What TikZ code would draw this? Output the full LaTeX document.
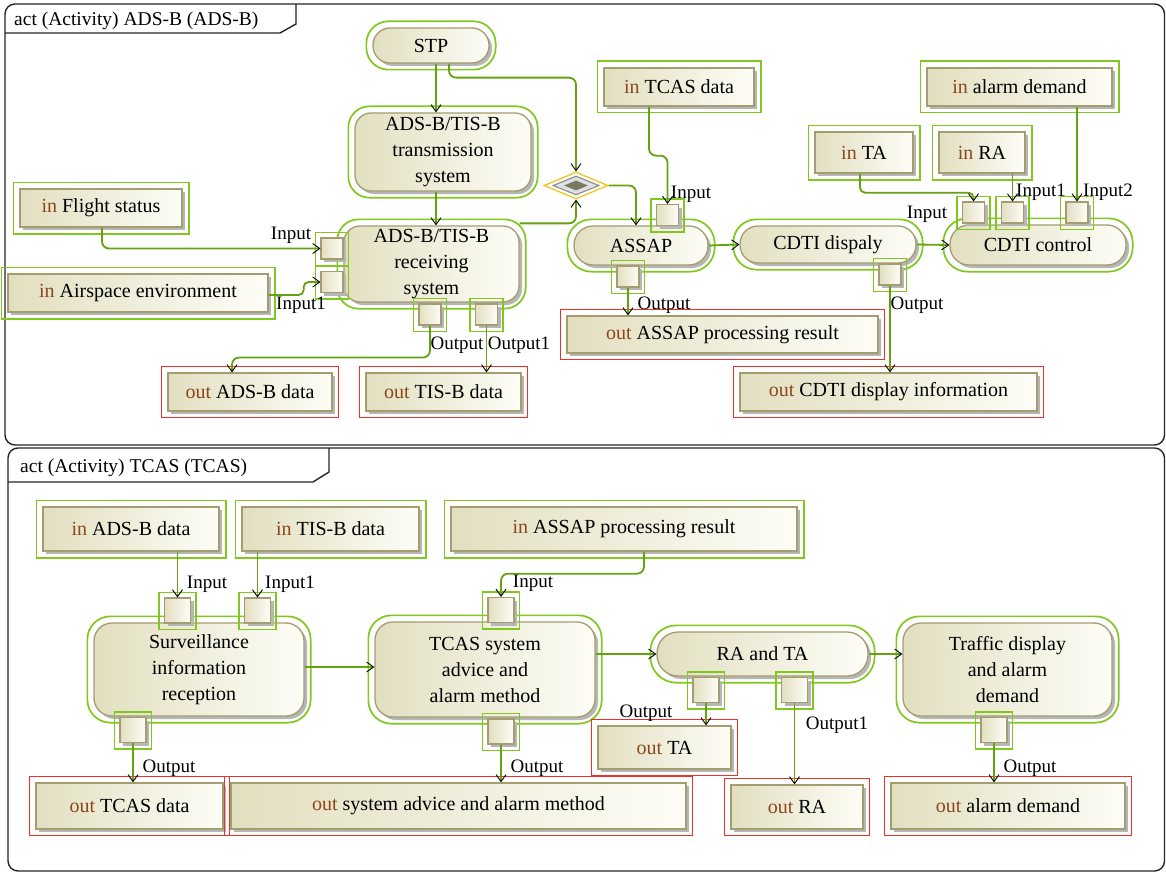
\documentclass[tikz,border=0pt]{standalone}
\usepackage{fontspec}
\setmainfont{Liberation Serif}
\usetikzlibrary{arrows.meta,shapes.geometric,calc}

\definecolor{halogreen}{RGB}{128,200,30}
\definecolor{flowgreen}{RGB}{100,162,18}
\definecolor{outred}{RGB}{236,50,40}
\definecolor{boxline}{RGB}{163,157,112}
\definecolor{boxleft}{RGB}{226,223,192}
\definecolor{boxright}{RGB}{253,253,247}
\definecolor{shade}{RGB}{182,182,182}
\definecolor{kwbrown}{RGB}{140,70,25}
\definecolor{diayellow}{RGB}{245,196,30}
\definecolor{diacore}{RGB}{122,122,100}
\definecolor{framegray}{RGB}{38,38,38}

\newcommand\kw[1]{\textcolor{kwbrown}{#1}}
% green / red outline drawn around a node and its shadow
\newcommand\outline[2]{\draw[#1] ([shift={(-6pt,6pt)}]#2.north west) rectangle ([shift={(6pt,-6pt)}]#2.south east);}

\tikzset{
  boxfill/.style={draw=boxline, line width=1.3pt, left color=boxleft, right color=boxright,
    preaction={fill=shade, draw=none, transform canvas={shift={(3pt,-3pt)}}}},
  action/.style={boxfill, rounded corners=#1, align=center, inner sep=0pt,
    font=\fontsize{20}{26}\selectfont},
  action/.default=16pt,
  iobox/.style={boxfill, inner sep=0pt, font=\fontsize{20}{24}\selectfont},
  pinbox/.style={boxfill, line width=1.1pt, inner sep=0pt},
  greenline/.style={draw=halogreen, line width=1.7pt},
  redline/.style={draw=outred, line width=1.6pt},
  flow/.style={draw=flowgreen, line width=1.8pt, rounded corners=7pt,
    -{Straight Barb[length=7pt,width=10pt,line width=0.9pt,color=black]}},
  pinlabel/.style={font=\fontsize{19}{22}\selectfont, anchor=base, inner sep=0pt},
  titletext/.style={font=\fontsize{19.5}{22}\selectfont, anchor=base west, inner sep=0pt},
  actframe/.style={draw=framegray, line width=1.4pt, rounded corners=10pt},
  tabline/.style={draw=framegray, line width=1.4pt},
}

\begin{document}
\begin{tikzpicture}[x=1pt,y=-1pt]
\useasboundingbox (0,0) rectangle (1166,872);

% ---------- frames ----------
\fill[white] (0,0) rectangle (1166,872);
\draw[actframe] (5,4) rectangle (1164.5,445);
\draw[tabline] (5,33) -- (280,33) -- (296,24) -- (296,4);
\node[titletext] (title1) at (14,26) {act (Activity) ADS-B (ADS-B)};
\draw[actframe] (8,448) rectangle (1164.5,871);
\draw[tabline] (8,482) -- (313,482) -- (329,472) -- (329,448);
\node[titletext] (title2) at (20,472) {act (Activity) TCAS (TCAS)};

% ---------- ADS-B activity ----------
\node[action=17pt, minimum width=116pt, minimum height=35pt] (stp) at (431,45.5) {STP};
\node[action, minimum width=176pt, minimum height=78pt] (trans) at (443,152) {ADS-B/TIS-B\\transmission\\system};
\node[action, minimum width=175pt, minimum height=76pt] (rcv) at (431.5,264) {ADS-B/TIS-B\\receiving\\system};
\node[iobox, minimum width=162pt, minimum height=38pt] (fs) at (101,208) {\kw{in} Flight status};
\node[iobox, minimum width=260pt, minimum height=38pt] (air) at (138,293) {\kw{in} Airspace environment};
\node[iobox, minimum width=164pt, minimum height=38pt] (oadsb) at (250,392) {\kw{out} ADS-B data};
\node[iobox, minimum width=155pt, minimum height=38pt] (otisb) at (443.5,392) {\kw{out} TIS-B data};
\node[iobox, minimum width=150pt, minimum height=38pt] (itcas) at (679,87) {\kw{in} TCAS data};
\node[action=19pt, minimum width=134pt, minimum height=39pt] (assap) at (641,245.5) {ASSAP};
\node[iobox, minimum width=311pt, minimum height=37pt] (oassap) at (722.5,334.5) {\kw{out} ASSAP processing result};
\node[action=18pt, minimum width=176pt, minimum height=37pt] (cdisp) at (828,244.5) {CDTI dispaly};
\node[iobox, minimum width=297pt, minimum height=38pt] (ocdti) at (888.5,392) {\kw{out} CDTI display information};
\node[action=19pt, minimum width=176pt, minimum height=40pt] (cctrl) at (1038,245) {CDTI control};
\node[iobox, minimum width=98pt, minimum height=41pt] (ita) at (864,152.5) {\kw{in} TA};
\node[iobox, minimum width=86pt, minimum height=41pt] (ira) at (982,152.5) {\kw{in} RA};
\node[iobox, minimum width=185pt, minimum height=38pt] (ialarm) at (1019.5,87) {\kw{in} alarm demand};

% ---------- TCAS activity ----------
\node[iobox, minimum width=176pt, minimum height=44pt] (iadsb) at (131,529) {\kw{in} ADS-B data};
\node[iobox, minimum width=177pt, minimum height=44pt] (itisb) at (330.5,529) {\kw{in} TIS-B data};
\node[iobox, minimum width=346pt, minimum height=44pt] (iassap) at (624,529) {\kw{in} ASSAP processing result};
\node[action=18pt, minimum width=210pt, minimum height=93pt] (surv) at (199,669.5) {Surveillance\\information\\reception};
\node[action=18pt, minimum width=220pt, minimum height=95pt] (tsys) at (485,669.5) {TCAS system\\advice and\\alarm method};
\node[action=21pt, minimum width=211pt, minimum height=44pt] (rata) at (762.5,654) {RA and TA};
\node[action=18pt, minimum width=209pt, minimum height=93pt] (traf) at (1007.5,669.5) {Traffic display\\and alarm\\demand};
\node[iobox, minimum width=187pt, minimum height=46pt] (otcas) at (129.5,806) {\kw{out} TCAS data};
\node[iobox, minimum width=455pt, minimum height=46pt] (oadv) at (458.5,806) {\kw{out} system advice and alarm method};
\node[iobox, minimum width=133pt, minimum height=43pt] (ota) at (664.5,747.5) {\kw{out} TA};
\node[iobox, minimum width=132pt, minimum height=44pt] (ora) at (797,807) {\kw{out} RA};
\node[iobox, minimum width=234pt, minimum height=46pt] (oalarm) at (1008,806) {\kw{out} alarm demand};

% ---------- outlines round the boxes ----------
\outline{greenline, rounded corners=22pt}{stp}
\outline{greenline, rounded corners=21pt}{trans}
\outline{greenline, rounded corners=21pt}{rcv}
\outline{greenline}{fs}
\outline{greenline}{air}
\outline{redline}{oadsb}
\outline{redline}{otisb}
\outline{greenline}{itcas}
\outline{greenline, rounded corners=24pt}{assap}
\outline{redline}{oassap}
\outline{greenline, rounded corners=23pt}{cdisp}
\outline{redline}{ocdti}
\outline{greenline, rounded corners=24pt}{cctrl}
\outline{greenline}{ita}
\outline{greenline}{ira}
\outline{greenline}{ialarm}
\outline{greenline}{iadsb}
\outline{greenline}{itisb}
\outline{greenline}{iassap}
\outline{greenline, rounded corners=23pt}{surv}
\outline{greenline, rounded corners=23pt}{tsys}
\outline{greenline, rounded corners=26pt}{rata}
\outline{greenline, rounded corners=23pt}{traf}
\outline{redline}{otcas}
\outline{redline}{oadv}
\outline{redline}{ota}
\outline{redline}{ora}
\outline{redline}{oalarm}

% merge node
\node[shape=diamond, minimum width=64pt, minimum height=27pt, inner sep=0pt,
      draw=diayellow, line width=1.3pt, fill=white] (dec) at (576,185.5) {};
\node[shape=diamond, minimum width=46pt, minimum height=19pt, inner sep=0pt,
      draw=black!45, line width=1.1pt, fill=black!12] (decin) at (dec.center) {};
\node[shape=diamond, minimum width=24pt, minimum height=10pt, inner sep=0pt,
      fill=diacore] (deccore) at (dec.center) {};

% ---------- pins ----------
\node[pinbox, minimum width=22pt, minimum height=21pt] (pRi)  at (332,248.5) {};
\node[pinbox, minimum width=22pt, minimum height=21pt] (pRi1) at (332,282) {};
\node[pinbox, minimum width=22pt, minimum height=21pt] (pRo)  at (430,314.5) {};
\node[pinbox, minimum width=22pt, minimum height=21pt] (pRo1) at (486.5,314.5) {};
\node[pinbox, minimum width=22pt, minimum height=21pt] (pAi)  at (667.5,215) {};
\node[pinbox, minimum width=22pt, minimum height=21pt] (pAo)  at (628,276.5) {};
\node[pinbox, minimum width=22pt, minimum height=21pt] (pDo)  at (890,274.5) {};
\node[pinbox, minimum width=22pt, minimum height=21pt] (pCi)  at (973.5,212.5) {};
\node[pinbox, minimum width=22pt, minimum height=21pt] (pCi1) at (1012.5,212.5) {};
\node[pinbox, minimum width=22pt, minimum height=21pt] (pCi2) at (1077,212.5) {};
\node[pinbox, minimum width=26pt, minimum height=25pt] (qSi)  at (177.5,610.5) {};
\node[pinbox, minimum width=26pt, minimum height=25pt] (qSi1) at (257.5,610.5) {};
\node[pinbox, minimum width=26pt, minimum height=25pt] (qSo)  at (133,730) {};
\node[pinbox, minimum width=26pt, minimum height=25pt] (qTi)  at (501,610) {};
\node[pinbox, minimum width=26pt, minimum height=25pt] (qTo)  at (501,731.5) {};
\node[pinbox, minimum width=26pt, minimum height=25pt] (qRo)  at (706,690) {};
\node[pinbox, minimum width=26pt, minimum height=25pt] (qRo1) at (794.5,690) {};
\node[pinbox, minimum width=26pt, minimum height=25pt] (qFo)  at (994,730) {};
\foreach \p in {pRi,pRi1,pRo,pRo1,pAi,pAo,pDo,pCi,pCi1,pCi2,qSi,qSi1,qSo,qTi,qTo,qRo,qRo1,qFo}
  {\draw[greenline] ([shift={(-5pt,5pt)}]\p.north west) rectangle ([shift={(5pt,-6pt)}]\p.south east);}

% ---------- flows ----------
\draw[flow] ([xshift=5pt]stp.south) -- ([xshift=-7pt]trans.north);
\draw[flow] ([xshift=18pt]stp.south) -- ++(0,14) -| (dec.north);
\draw[flow] ([xshift=-7pt]trans.south) -- ([xshift=4.5pt]rcv.north);
\draw[flow] ([xshift=1pt]fs.south) |- (pRi.west);
\draw[flow, rounded corners=5pt] ([yshift=-2pt]air.east) -- ++(35,0) |- (pRi1.west);
\draw[flow] ([yshift=2pt]rcv.north east) -| (dec.south);
\draw[flow] (dec.east) -| ([xshift=-5pt]assap.north);
\draw[flow] ([xshift=-30pt]itcas.south) -- ++(0,49) -| (pAi.north);
\draw[flow] (pAo.south) -- (pAo.south |- oassap.north);
\draw[flow] (assap.east) -- (cdisp.west);
\draw[flow] (pDo.south) -- (pDo.south |- ocdti.north);
\draw[flow] (cdisp.east) -- (cctrl.west);
\draw[flow, rounded corners=5pt] ([xshift=-4pt]ita.south) -- ++(0,19) -| (pCi.north);
\draw[flow] (pCi1.north |- ira.south) -- (pCi1.north);
\draw[flow] (pCi2.north |- ialarm.south) -- (pCi2.north);
\draw[flow] (pRo.south) -- ++(0,32) -| ([xshift=-18pt]oadsb.north);
\draw[flow] (pRo1.south) -- (pRo1.south |- otisb.north);

\draw[flow] (qSi.north |- iadsb.south) -- (qSi.north);
\draw[flow] (qSi1.north |- itisb.south) -- (qSi1.north);
\draw[flow] ([xshift=20pt]iassap.south) -- ++(0,22) -| (qTi.north);
\draw[flow] (qSo.south) -- (qSo.south |- otcas.north);
\draw[flow] ([yshift=2.5pt]surv.east) -- ([yshift=2.5pt]tsys.west);
\draw[flow] (qTo.south) -- (qTo.south |- oadv.north);
\draw[flow] (tsys.east |- rata.west) -- (rata.west);
\draw[flow] (qRo.south) -- (qRo.south |- ota.north);
\draw[flow] (qRo1.south) -- (qRo1.south |- ora.north);
\draw[flow] (rata.east) -- (rata.east -| traf.west);
\draw[flow] (qFo.south) -- (qFo.south |- oalarm.north);

% ---------- pin names ----------
\node[pinlabel] (lRi)  at (291,239.5) {Input};
\node[pinlabel] (lRi1) at (301,309) {Input1};
\node[pinlabel] (lRo)  at (457,349) {Output};
\node[pinlabel] (lRo1) at (519,349) {Output1};
\node[pinlabel] (lAi)  at (691,198) {Input};
\node[pinlabel] (lAo)  at (664,309) {Output};
\node[pinlabel] (lDo)  at (917,309) {Output};
\node[pinlabel] (lCi)  at (927,218) {Input};
\node[pinlabel] (lCi1) at (1041,196) {Input1};
\node[pinlabel] (lCi2) at (1108,196) {Input2};
\node[pinlabel] (mSi)  at (207,588) {Input};
\node[pinlabel] (mSi1) at (290,588) {Input1};
\node[pinlabel] (mSo)  at (169,772) {Output};
\node[pinlabel] (mTi)  at (533,587) {Input};
\node[pinlabel] (mTo)  at (537,772) {Output};
\node[pinlabel] (mRo)  at (646,717) {Output};
\node[pinlabel] (mRo1) at (837,729) {Output1};
\node[pinlabel] (mFo)  at (1030,772) {Output};
\end{tikzpicture}
\end{document}
